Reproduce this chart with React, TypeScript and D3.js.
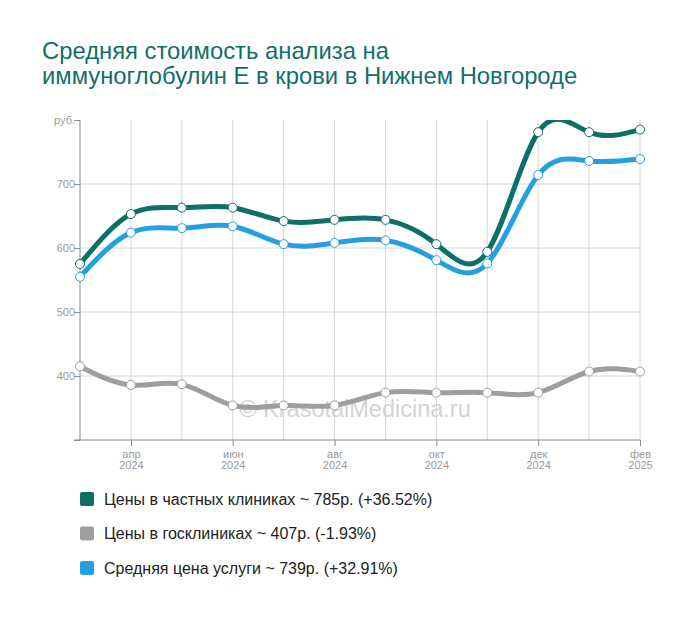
import React, { useEffect, useRef } from 'react';
import * as d3 from 'd3';

// месяцы (март 2024 – февраль 2025)
const months = ['2024-03', '2024-04', '2024-05', '2024-06', '2024-07', '2024-08', '2024-09', '2024-10', '2024-11', '2024-12', '2025-01', '2025-02'];
const monthNames = ['янв', 'фев', 'мар', 'апр', 'май', 'июн', 'июл', 'авг', 'сен', 'окт', 'ноя', 'дек'];

const privatePrices = [575, 653, 663, 663, 642, 644, 644, 606, 594, 781, 781, 785];
const statePrices = [415, 386, 387, 354, 354, 354, 374, 374, 374, 374, 407, 407];
const avgPrices = [555, 624, 631, 634, 606, 608, 612, 581, 576, 714, 736, 739];

const yTicks = [400, 500, 600, 700];

const legendLabels = [
    'Цены в частных клиниках ~ 785р. (+36.52%)',
    'Цены в госклиниках ~ 407р. (-1.93%)',
    'Средняя цена услуги ~ 739р. (+32.91%)',
];

const colors = { priv: '#0e6f66', state: '#9e9e9e', avg: '#259fe1' };
const font = '"Liberation Sans", Arial, sans-serif';

export default function App() {
    const ref = useRef<SVGSVGElement>(null);

    useEffect(() => {
        const width = 700, height = 617,
            margin = { top: 120, right: 60, bottom: 177, left: 80 };

        const dates = months.map(m => new Date(m + '-01T00:00:00'));

        //x по индексу месяца, чтобы шаг был ровным
        const x = d3.scalePoint<number>()
            .domain(d3.range(months.length))
            .range([margin.left, width - margin.right]);

        const y = d3.scaleLinear()
            .domain([300, 800])
            .range([height - margin.bottom, margin.top]);

        const svg = d3.select(ref.current);
        svg.selectAll('*').remove();
        svg.attr('width', width).attr('height', height)
            .style('font-family', font);

        // заголовок
        const title = svg.append('text').attr('fill', '#107068').attr('font-size', 23.8);
        title.append('tspan').attr('x', 42).attr('y', 59).text('Средняя стоимость анализа на');
        title.append('tspan').attr('x', 42).attr('y', 84).text('иммуноглобулин Е в крови в Нижнем Новгороде');

        // сетка
        svg.append('g')
            .selectAll('line')
            .data(d3.range(1, months.length))
            .join('line')
            .attr('x1', d => x(d)!).attr('x2', d => x(d)!)
            .attr('y1', y(800)).attr('y2', y(300))
            .attr('stroke', '#d6d6d6');

        svg.append('g')
            .selectAll('line')
            .data(yTicks)
            .join('line')
            .attr('x1', x(0)!).attr('x2', x(months.length - 1)!)
            .attr('y1', d => y(d)).attr('y2', d => y(d))
            .attr('stroke', '#d6d6d6');

        // ось Y
        const yAxis = svg.append('g')
            .attr('transform', `translate(${margin.left},0)`)
            .call(d3.axisLeft(y).tickValues([300, ...yTicks, 800]).tickSize(6).tickFormat(d => (+d === 300 ? '' : +d === 800 ? 'руб.' : String(d))))
        yAxis.select('.domain').attr('stroke', '#8a8a8a').attr('d', `M0,${y(800)}V${y(300)}`);
        yAxis.selectAll('.tick line').attr('stroke', '#8a8a8a');
        yAxis.selectAll('.tick text').attr('fill', '#999').attr('font-size', 11).attr('font-family', font).attr('x', -5);

        // ось X
        const labeled = d3.range(1, months.length, 2);
        const xAxis = svg.append('g')
            .attr('transform', `translate(0,${y(300)})`)
            .call(d3.axisBottom(x).tickValues(labeled).tickSize(6).tickFormat(() => ''));
        xAxis.select('.domain').attr('stroke', '#8a8a8a').attr('d', `M${margin.left - 6},0H${x(months.length - 1)}`);
        xAxis.selectAll('.tick line').attr('stroke', '#8a8a8a');
        const xl = xAxis.selectAll('.tick text')
            .attr('fill', '#999').attr('font-size', 11).attr('font-family', font)
            .attr('y', 10).attr('dy', '0.71em');
        xl.each(function (d: any) {
            const t = d3.select(this);
            t.append('tspan').attr('x', 0).text(monthNames[dates[d].getMonth()]);
            t.append('tspan').attr('x', 0).attr('dy', '1.05em').text(String(dates[d].getFullYear()));
        });

        // водяной знак
        svg.append('text')
            .attr('x', 355).attr('y', 417)
            .attr('text-anchor', 'middle')
            .attr('font-size', 23.5)
            .attr('fill', '#cfcfcf')
            .attr('opacity', 0.9)
            .text('© KrasotaiMedicina.ru');

        svg.append('clipPath').attr('id', 'plot-clip')
            .append('rect')
            .attr('x', margin.left - 10).attr('y', margin.top)
            .attr('width', width - margin.left - margin.right + 20)
            .attr('height', height - margin.top - margin.bottom);

        const line = d3.line<number>()
            .curve(d3.curveNatural)
            .x((_, i) => x(i)!)
            .y(d => y(d));

        const series = [
            { values: statePrices, color: colors.state },
            { values: avgPrices, color: colors.avg },
            { values: privatePrices, color: colors.priv },
        ];

        series.forEach(s => {
            svg.append('path')
                .datum(s.values)
                .attr('clip-path', 'url(#plot-clip)')
                .attr('fill', 'none')
                .attr('stroke', s.color)
                .attr('stroke-width', 5)
                .attr('stroke-linejoin', 'round')
                .attr('d', line);
        });

        series.forEach(s => {
            svg.append('g')
                .selectAll('circle')
                .data(s.values)
                .join('circle')
                .attr('cx', (_, i) => x(i)!)
                .attr('cy', d => y(d))
                .attr('r', 4.5)
                .attr('fill', '#fff')
                .attr('stroke', s.color)
                .attr('stroke-width', 1);
        });

        // легенда
        const legendColors = [colors.priv, colors.state, colors.avg];
        const lg = svg.append('g')
            .selectAll('g')
            .data(legendLabels)
            .join('g')
            .attr('transform', (_, i) => `translate(80,${499 + i * 34.5})`);
        lg.append('rect')
            .attr('x', 0).attr('y', -7)
            .attr('width', 14).attr('height', 14)
            .attr('rx', 2)
            .attr('fill', (_, i) => legendColors[i]);
        lg.append('text')
            .attr('x', 24).attr('dy', '0.35em')
            .attr('font-size', 16)
            .attr('fill', '#222')
            .text(d => d);
    }, []);

    return <svg ref={ref} style={{ position: 'absolute', left: 0, top: 0 }} />;
}
